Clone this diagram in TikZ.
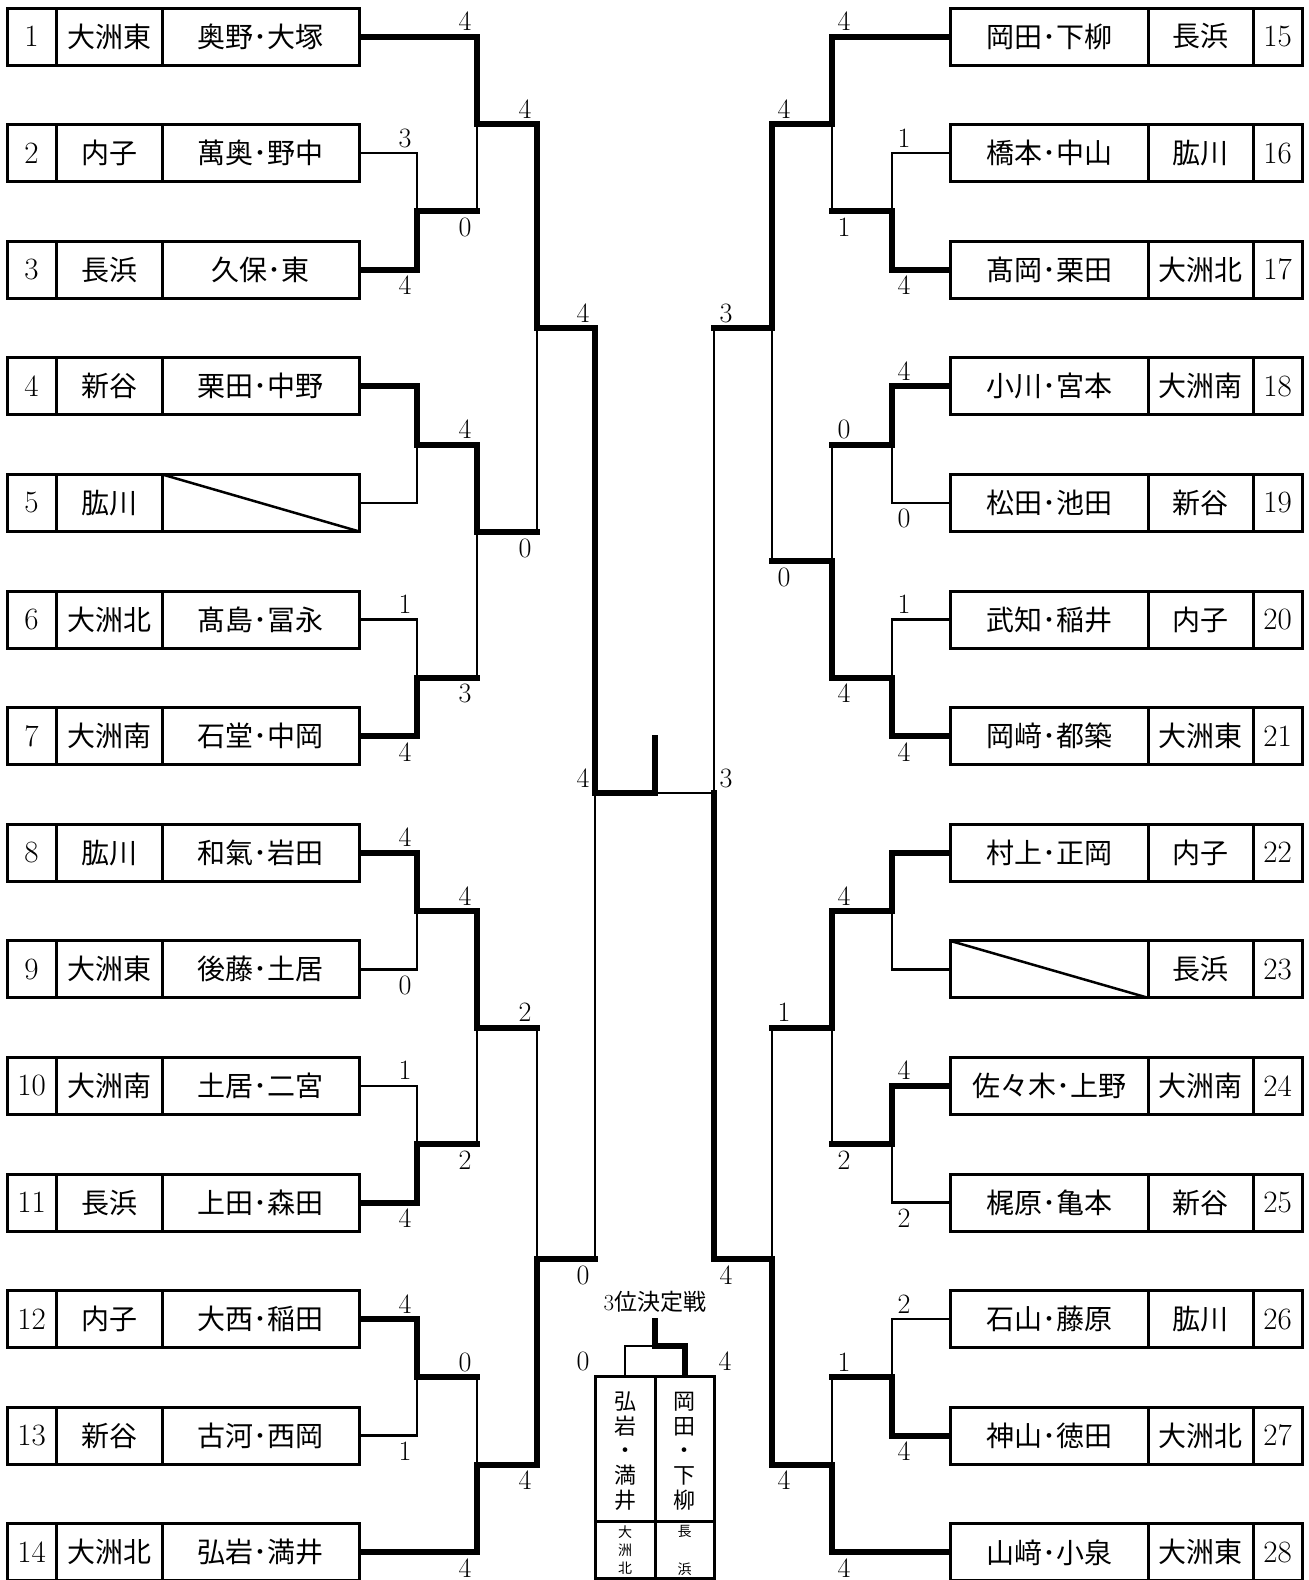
\documentclass[tikz,border=0pt]{standalone}
\usepackage{fontspec}
\newfontfamily\jp{Noto Sans CJK JP}
\usetikzlibrary{backgrounds}
\begin{document}
\begin{tikzpicture}[x=1pt,y=-1pt,
  bx/.style={draw,line width=3pt,fill=white,minimum width=352pt,minimum height=57pt,inner sep=0pt,outer sep=0pt},
  tb/.style={draw,line width=3pt,fill=white,minimum height=202pt,inner sep=0pt,outer sep=0pt},
  dv/.style={line width=3pt},
  tn/.style={line width=2.5pt},
  tk/.style={line width=6pt,line cap=rect,line join=miter},
  sc/.style={font=\fontsize{28}{28}\selectfont,inner sep=0pt,anchor=base},
  jt/.style={font=\jp\fontsize{28}{28}\selectfont,inner sep=0pt},
  nt/.style={font=\fontsize{31}{31}\selectfont,inner sep=0pt}]
\useasboundingbox (0,0) rectangle (1309,1580);

% left boxes
\foreach \i/\sc/\nm in {1/大洲東/奥野･大塚,2/内子/萬奥･野中,3/長浜/久保･東,4/新谷/栗田･中野,5/肱川/{},6/大洲北/髙島･冨永,7/大洲南/石堂･中岡,8/肱川/和氣･岩田,9/大洲東/後藤･土居,10/大洲南/土居･二宮,11/長浜/上田･森田,12/内子/大西･稲田,13/新谷/古河･西岡,14/大洲北/弘岩･満井}{
  \pgfmathsetmacro{\yy}{36.5+116.6*(\i-1)}
  \node[bx] (t\i) at (183,\yy) {};
  \draw[dv] ([xshift=49pt]t\i.north west) -- ([xshift=49pt]t\i.south west);
  \draw[dv] ([xshift=155pt]t\i.north west) -- ([xshift=155pt]t\i.south west);
  \node[nt] at (31.5,\yy) {\i};
  \node[jt] at (109,\yy) {\sc};
  \node[jt] at (260.5,\yy) {\nm};
}
% right boxes
\foreach \i/\sc/\nm in {15/長浜/岡田･下柳,16/肱川/橋本･中山,17/大洲北/髙岡･栗田,18/大洲南/小川･宮本,19/新谷/松田･池田,20/内子/武知･稲井,21/大洲東/岡﨑･都築,22/内子/村上･正岡,23/長浜/{},24/大洲南/佐々木･上野,25/新谷/梶原･亀本,26/肱川/石山･藤原,27/大洲北/神山･徳田,28/大洲東/山﨑･小泉}{
  \pgfmathsetmacro{\yy}{36.5+116.6*(\i-15)}
  \node[bx] (t\i) at (1126,\yy) {};
  \draw[dv] ([xshift=198pt]t\i.north west) -- ([xshift=198pt]t\i.south west);
  \draw[dv] ([xshift=303pt]t\i.north west) -- ([xshift=303pt]t\i.south west);
  \node[jt] at (1049,\yy) {\nm};
  \node[jt] at (1200.5,\yy) {\sc};
  \node[nt] at (1277.5,\yy) {\i};
}
% empty entries
\draw[tn] ([xshift=155pt]t5.north west) -- (t5.south east);
\draw[tn] (t23.north west) -- ([xshift=198pt]t23.south west);

% third place boxes
\node[tb,minimum width=60pt] (T1) at (625,1477) {};
\node[tb,minimum width=59pt] (T2) at (684.5,1477) {};
\draw[dv] ([yshift=-145pt]T1.north west) -- ([yshift=-145pt]T2.north east);
\node[font=\jp\fontsize{22}{24.7}\selectfont,align=center,inner sep=0pt] (T1n) at (625,1451) {弘\\岩\\・\\満\\井};
\node[font=\jp\fontsize{22}{24.7}\selectfont,align=center,inner sep=0pt] (T2n) at (684.5,1451) {岡\\田\\・\\下\\柳};
\node[font=\jp\fontsize{14}{18}\selectfont,align=center,inner sep=0pt] (T1s) at (625,1550) {大\\洲\\北};
\node[font=\jp\fontsize{14}{38}\selectfont,align=center,inner sep=0pt] (T2s) at (684.5,1550) {長\\浜};
\node[inner sep=0pt,font=\fontsize{23}{23}\selectfont] (T3) at (655,1302) {3{\jp 位決定戦}};

% junctions
\coordinate (L23) at (417,211.4);
\coordinate (L45) at (417,444.6);
\coordinate (L67) at (417,677.8);
\coordinate (L89) at (417,911);
\coordinate (L1011) at (417,1144.2);
\coordinate (L1213) at (417,1377.4);
\coordinate (LA) at (477,124);
\coordinate (LB) at (477,532);
\coordinate (LC) at (477,1027.6);
\coordinate (LD) at (477,1464.9);
\coordinate (LE) at (537,328);
\coordinate (LF) at (537,1259);
\coordinate (LS) at (595,793);
\coordinate (R1617) at (892,211.4);
\coordinate (R1819) at (892,444.6);
\coordinate (R2021) at (892,677.8);
\coordinate (R2223) at (892,911);
\coordinate (R2425) at (892,1144.2);
\coordinate (R2627) at (892,1377.4);
\coordinate (RA) at (832,124);
\coordinate (RB) at (832,561);
\coordinate (RC) at (832,1027.6);
\coordinate (RD) at (832,1464.9);
\coordinate (RE) at (772,328);
\coordinate (RF) at (772,1259);
\coordinate (RS) at (714,793);
\coordinate (FC) at (655,793);
\coordinate (FT) at (655,738);
\coordinate (TC) at (655,1346);
\coordinate (TT) at (655,1321);

\begin{pgfonlayer}{background}
% thin lines: every entry
\draw[tn]
  (t2.east) -| (L23) (t3.east) -| (L23)
  (t4.east) -| (L45) (t5.east) -| (L45)
  (t6.east) -| (L67) (t7.east) -| (L67)
  (t8.east) -| (L89) (t9.east) -| (L89)
  (t10.east) -| (L1011) (t11.east) -| (L1011)
  (t12.east) -| (L1213) (t13.east) -| (L1213)
  (t1.east) -| (LA) (L23) -| (LA)
  (L45) -| (LB) (L67) -| (LB)
  (L89) -| (LC) (L1011) -| (LC)
  (L1213) -| (LD) (t14.east) -| (LD)
  (LA) -| (LE) (LB) -| (LE)
  (LC) -| (LF) (LD) -| (LF)
  (LE) -| (LS) (LF) -| (LS)
  (t16.west) -| (R1617) (t17.west) -| (R1617)
  (t18.west) -| (R1819) (t19.west) -| (R1819)
  (t20.west) -| (R2021) (t21.west) -| (R2021)
  (t22.west) -| (R2223) (t23.west) -| (R2223)
  (t24.west) -| (R2425) (t25.west) -| (R2425)
  (t26.west) -| (R2627) (t27.west) -| (R2627)
  (t15.west) -| (RA) (R1617) -| (RA)
  (R1819) -| (RB) (R2021) -| (RB)
  (R2223) -| (RC) (R2425) -| (RC)
  (R2627) -| (RD) (t28.west) -| (RD)
  (RA) -| (RE) (RB) -| (RE)
  (RC) -| (RF) (RD) -| (RF)
  (RE) -| (RS) (RF) -| (RS)
  (RS) -- (FC)
  (T1.north) |- (TC);
% thick lines: winners
\draw[tk] (t1.east) -| (LA) -| (LE) -| (LS) -- (FC) -- (FT);
\draw[tk] (t3.east) -| (L23) -- (L23 -| LA);
\draw[tk] (t4.east) -| (L45) -| (LB) -- (LB -| LE);
\draw[tk] (t7.east) -| (L67) -- (L67 -| LB);
\draw[tk] (t8.east) -| (L89) -| (LC) -- (LC -| LF);
\draw[tk] (t11.east) -| (L1011) -- (L1011 -| LC);
\draw[tk] (t12.east) -| (L1213) -- (L1213 -| LD);
\draw[tk] (t14.east) -| (LD) -| (LF) -- (LF -| LS);
\draw[tk] (t15.west) -| (RA) -| (RE) -- (RE -| RS);
\draw[tk] (t17.west) -| (R1617) -- (R1617 -| RA);
\draw[tk] (t18.west) -| (R1819) -- (R1819 -| RB);
\draw[tk] (t21.west) -| (R2021) -| (RB) -- (RB -| RE);
\draw[tk] (t22.west) -| (R2223) -| (RC) -- (RC -| RF);
\draw[tk] (t24.west) -| (R2425) -- (R2425 -| RC);
\draw[tk] (t27.west) -| (R2627) -- (R2627 -| RD);
\draw[tk] (t28.west) -| (RD) -| (RF) -| (RS);
\draw[tk] (T2.north) |- (TC) -- (TT);
\end{pgfonlayer}

% scores
\foreach \x/\y/\t in {465/30.5/4,405/147.1/3,405/294.7/4,465/236.4/0,525/118/4,465/438.6/4,405/613.5/1,405/761.1/4,465/702.8/3,525/557/0,583/322/4,583/787/4,405/846.7/4,405/994.3/0,465/905/4,405/1079.9/1,405/1227.5/4,465/1169.2/2,525/1021.6/2,405/1313.1/4,405/1460.7/1,465/1371.4/0,465/1577.3/4,525/1489.9/4,583/1284/0,583/1370/0,
844/30.5/4,904/147.1/1,904/294.7/4,844/236.4/1,784/118/4,904/380.3/4,904/527.9/0,844/438.6/0,904/613.5/1,904/761.1/4,844/702.8/4,784/586/0,726/322/3,726/787/3,844/905/4,904/1079.9/4,904/1227.5/2,844/1169.2/2,784/1021.6/1,904/1313.1/2,904/1460.7/4,844/1371.4/1,844/1577.3/4,784/1489.9/4,726/1284/4,725/1370/4}
  \node[sc] at (\x,\y) {\t};
\end{tikzpicture}
\end{document}
